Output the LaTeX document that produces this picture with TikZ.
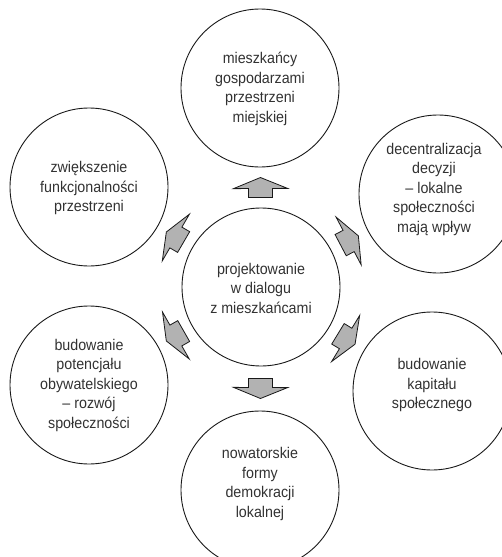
\documentclass[tikz,border=0pt]{standalone}
\usepackage{fontspec}
\setmainfont[FakeStretch=0.92]{Liberation Sans}
\usetikzlibrary{calc}
\definecolor{arrowgray}{RGB}{178,178,178}
\definecolor{txtgray}{RGB}{50,50,50}
\tikzset{
  bubble/.style={draw=black!90, line width=0.9pt, circle, minimum size=158pt, inner sep=0pt},
  txt/.style={align=center, inner sep=0pt, text=txtgray, font=\fontsize{15.5}{19.5}\selectfont},
  pics/blockarrow/.style={code={
    \draw[fill=arrowgray, draw=black!90, line width=0.8pt, line join=miter]
      (10,0) -- (-1,27) -- (-1,12) -- (-10,12) -- (-10,-12) -- (-1,-12) -- (-1,-27) -- cycle;}}
}
\begin{document}
\begin{tikzpicture}[x=1pt,y=-1pt]
\useasboundingbox (0,0) rectangle (502,557);
\node[bubble] (c)  at (261,287) {};
\node[bubble] (t)  at (260,88)  {};
\node[bubble] (tr) at (438,194) {};
\node[bubble] (br) at (432,391) {};
\node[bubble] (b)  at (260,490) {};
\node[bubble] (bl) at (89,385)  {};
\node[bubble] (tl) at (89,187)  {};
\node[txt] (ct)  at ($(c)+(0,1)$)   {projektowanie\\w dialogu\\z mieszkańcami};
\node[txt] (tt)  at ($(t)+(0,1)$)   {mieszkańcy\\gospodarzami\\przestrzeni\\miejskiej};
\node[txt] (trt) at ($(tr)+(-4,-5)$) {decentralizacja\\decyzji\\– lokalne\\społeczności\\mają wpływ};
\node[txt] (brt) at ($(br)+(0,-6)$)  {budowanie\\kapitału\\społecznego};
\node[txt] (bt)  at ($(b)+(0,-6)$)   {nowatorskie\\formy\\demokracji\\lokalnej};
\node[txt] (blt) at ($(bl)+(0,0)$)   {budowanie\\potencjału\\obywatelskiego\\– rozwój\\społeczności};
\node[txt] (tlt) at ($(tl)+(0,1)$)   {zwiększenie\\funkcjonalności\\przestrzeni};
\foreach \t in {t,tr,br,b,bl,tl}{
  \path let \p1=($(\t)-(c)$), \n1={atan2(\y1,\x1)} in ($(c)!0.5!(\t)$) pic[rotate=\n1] {blockarrow};
}
\end{tikzpicture}
\end{document}
